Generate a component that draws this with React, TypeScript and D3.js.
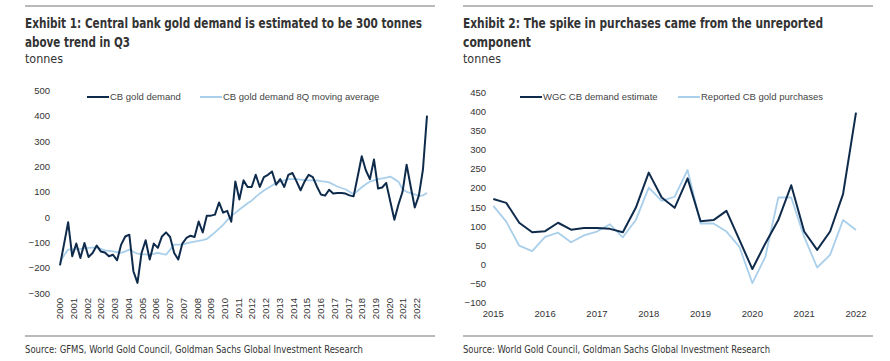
import { useEffect, useRef } from 'react';
import * as d3 from 'd3';

const W = 890;
const H = 361;
const DARK = '#0f2b4c';
const LIGHT = '#a9cfea';
const TEXT = '#333';
const NARROW = '"Liberation Sans Narrow", "DejaVu Sans Condensed", "Roboto", sans-serif';
const SANS = '"Liberation Sans", Arial, sans-serif';

// Exhibit 1: quarterly, 2000 - 2022 Q3
const cbDemand = [
  -190, -105, -20, -154, -104, -161, -102, -157, -141, -112,
  -135, -139, -154, -148, -170, -108, -76, -69, -213, -259,
  -141, -91, -167, -104, -121, -76, -60, -78, -141, -167,
  -104, -82, -73, -78, -17, -60, 6, 6, 10, 58,
  18, 25, -18, 141, 70, 145, 119, 119, 167, 119,
  158, 167, 180, 128, 150, 119, 167, 174, 141, 106,
  141, 167, 158, 121, 89, 85, 108, 93, 95, 95,
  93, 86, 82, 160, 240, 185, 150, 227, 113, 117,
  135, 62, -10, 50, 100, 207, 121, 38, 85, 187,
  400,
];
const cbDemandMA = [
  -178, -150, -128, -127, -126, -125, -123, -121, -120, -119,
  -125, -131, -133, -135, -138, -141, -135, -128, -136, -144,
  -146, -147, -148, -145, -141, -145, -148, -128, -108, -108,
  -108, -103, -99, -96, -93, -90, -86, -73, -60, -45,
  -30, -12, 5, 17, 30, 42, 55, 65, 80, 93,
  105, 115, 125, 135, 140, 145, 150, 150, 150, 148,
  146, 145, 145, 145, 142, 140, 137, 129, 121, 115,
  110, 100, 90, 104, 118, 130, 140, 145, 150, 153,
  156, 160, 150, 140, 110, 100, 95, 90, 84, 86,
  95,
];
const leftXLabels = [
  '2000', '2001', '2002', '2002', '2003', '2004', '2005', '2006', '2007', '2007',
  '2008', '2009', '2010', '2011', '2012', '2012', '2013', '2014', '2015', '2016',
  '2017', '2017', '2018', '2019', '2020', '2021', '2022',
];
const leftYTicks = [-300, -200, -100, 0, 100, 200, 300, 400, 500];

// Exhibit 2: quarterly, 2015 - 2022
const wgcEstimate = [
  171, 161, 109, 84, 87, 109, 91, 95, 95, 93,
  84, 148, 240, 175, 148, 225, 113, 116, 140, 64,
  -12, 55, 116, 207, 86, 38, 86, 184, 397,
];
const reportedPurchases = [
  153, 112, 49, 35, 72, 83, 58, 76, 86, 105,
  71, 116, 201, 166, 177, 247, 107, 107, 86, 46,
  -49, 20, 175, 175, 72, -8, 25, 116, 90,
];
const rightXLabels = ['2015', '2016', '2017', '2018', '2019', '2020', '2021', '2022'];
const rightYTicks = [-100, -50, 0, 50, 100, 150, 200, 250, 300, 350, 400, 450];

export default function App() {
  const ref = useRef<SVGSVGElement>(null);

  useEffect(() => {
    const svg = d3.select(ref.current);
    svg.selectAll('*').remove();
    svg.append('rect').attr('width', W).attr('height', H).attr('fill', '#fff');

    // headers, sources, rules
    const panels = [
      { x0: 25, x1: 435, title: ['Exhibit 1: Central bank gold demand is estimated to be 300 tonnes', 'above trend in Q3'], tw: [397, 105],
        source: 'Source: GFMS, World Gold Council, Goldman Sachs Global Investment Research', sw: 338 },
      { x0: 463, x1: 873, title: ['Exhibit 2: The spike in purchases came from the unreported', 'component'], tw: [360, 68],
        source: 'Source: World Gold Council, Goldman Sachs Global Investment Research', sw: 307 },
    ];
    panels.forEach(p => {
      svg.append('line').attr('x1', p.x0).attr('x2', p.x1).attr('y1', 6).attr('y2', 6)
        .attr('stroke', '#777').attr('stroke-width', 1.2);
      p.title.forEach((t, i) => {
        svg.append('text').attr('x', p.x0).attr('y', 28 + i * 18.5)
          .attr('font-family', NARROW).attr('font-weight', 'bold').attr('font-size', 13.5)
          .attr('fill', TEXT).attr('textLength', p.tw[i]).attr('lengthAdjust', 'spacingAndGlyphs').text(t);
      });
      svg.append('text').attr('x', p.x0).attr('y', 63).attr('font-family', NARROW).attr('font-size', 13)
        .attr('fill', TEXT).attr('textLength', 38).attr('lengthAdjust', 'spacingAndGlyphs').text('tonnes');
      svg.append('line').attr('x1', p.x0).attr('x2', p.x1).attr('y1', 336).attr('y2', 336)
        .attr('stroke', '#777').attr('stroke-width', 1.2);
      svg.append('text').attr('x', p.x0).attr('y', 353).attr('font-family', NARROW).attr('font-size', 11)
        .attr('fill', TEXT).attr('textLength', p.sw).attr('lengthAdjust', 'spacingAndGlyphs').text(p.source);
    });

    const styleAxis = (gg: d3.Selection<SVGGElement, unknown, null, undefined>) => {
      gg.select('.domain').remove();
      gg.selectAll('.tick line').remove();
      gg.selectAll('text').attr('fill', TEXT).attr('font-family', SANS).attr('font-size', 9.5);
    };

    const legend = (x: number, y: number, color: string, label: string) => {
      svg.append('line').attr('x1', x).attr('x2', x + 22).attr('y1', y).attr('y2', y)
        .attr('stroke', color).attr('stroke-width', 2);
      svg.append('text').attr('x', x + 23).attr('y', y).attr('dy', '0.35em')
        .attr('font-family', SANS).attr('font-size', 9.5).attr('fill', '#444').text(label);
    };

    // ---- Exhibit 1
    {
      const x = d3.scaleLinear().domain([0, cbDemand.length - 1]).range([60, 427]);
      const y = d3.scaleLinear().domain([-300, 500]).range([293.3, 90.3]);
      const g = svg.append('g');

      g.append('g').attr('transform', 'translate(50,0)')
        .call(d3.axisLeft(y).tickValues(leftYTicks).tickSize(0).tickPadding(0))
        .call(styleAxis);

      // category labels every ~3.4 quarters
      const labelStep = 87.5 / (leftXLabels.length - 1);
      leftXLabels.forEach((lab, i) => {
        g.append('text')
          .attr('transform', `translate(${x(i * labelStep)},298) rotate(-90)`)
          .attr('text-anchor', 'end').attr('dy', '0.35em')
          .attr('font-family', SANS).attr('font-size', 9.5).attr('fill', TEXT).text(lab);
      });

      const line = d3.line<number>().x((_, i) => x(i)).y(d => y(d));
      g.append('path').datum(cbDemandMA).attr('d', line)
        .attr('fill', 'none').attr('stroke', LIGHT).attr('stroke-width', 1.8).attr('stroke-linejoin', 'round');
      g.append('path').datum(cbDemand).attr('d', line)
        .attr('fill', 'none').attr('stroke', DARK).attr('stroke-width', 2).attr('stroke-linejoin', 'round');

      legend(87, 97, DARK, 'CB gold demand');
      legend(200, 97, LIGHT, 'CB gold demand 8Q moving average');
    }

    // ---- Exhibit 2
    {
      const x = d3.scaleLinear().domain([0, wgcEstimate.length - 1]).range([493.3, 856]);
      const y = d3.scaleLinear().domain([-100, 450]).range([302.7, 92.3]);
      const g = svg.append('g');

      g.append('g').attr('transform', 'translate(486,0)')
        .call(d3.axisLeft(y).tickValues(rightYTicks).tickSize(0).tickPadding(0))
        .call(styleAxis);

      rightXLabels.forEach((lab, i) => {
        g.append('text').attr('x', x(i * 4)).attr('y', 317).attr('text-anchor', 'middle')
          .attr('font-family', SANS).attr('font-size', 9.5).attr('fill', TEXT).text(lab);
      });

      const line = d3.line<number>().x((_, i) => x(i)).y(d => y(d));
      g.append('path').datum(reportedPurchases).attr('d', line)
        .attr('fill', 'none').attr('stroke', LIGHT).attr('stroke-width', 1.8).attr('stroke-linejoin', 'round');
      g.append('path').datum(wgcEstimate).attr('d', line)
        .attr('fill', 'none').attr('stroke', DARK).attr('stroke-width', 2).attr('stroke-linejoin', 'round');

      legend(520, 97, DARK, 'WGC CB demand estimate');
      legend(678, 97, LIGHT, 'Reported CB gold purchases');
    }
  }, []);

  return (
    <svg ref={ref} width={W} height={H} style={{ position: 'absolute', left: 0, top: 0 }} />
  );
}
